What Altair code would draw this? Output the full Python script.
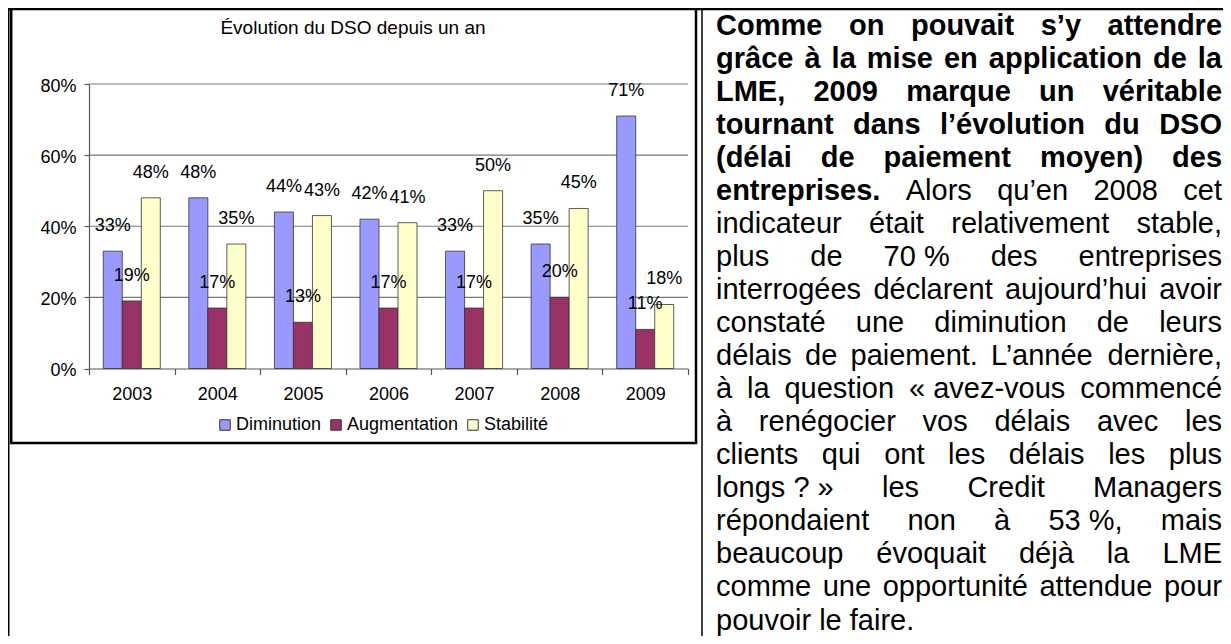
import altair as alt
import pandas as pd

# ---------------- data ----------------
YEARS = ["2003", "2004", "2005", "2006", "2007", "2008", "2009"]
SERIES = ["Diminution", "Augmentation", "Stabilité"]
DIMINUTION = [0.33, 0.48, 0.44, 0.42, 0.33, 0.35, 0.71]
AUGMENTATION = [0.19, 0.17, 0.13, 0.17, 0.17, 0.20, 0.11]
STABILITE = [0.48, 0.35, 0.43, 0.41, 0.50, 0.45, 0.18]
Y_TICKS = [0.0, 0.2, 0.4, 0.6, 0.8]
GRID_VALUES = [0.2, 0.4, 0.6, 0.8]
COLORS = ["#9999FF", "#993366", "#FFFFCC"]
TITLE = ["Évolution du DSO depuis un an"]

NB = "\u00a0"
TEXT_LINES = [
    "Comme on pouvait s’y attendre",
    "grâce à la mise en application de la",
    "LME, 2009 marque un véritable",
    "tournant dans l’évolution du DSO",
    "(délai de paiement moyen) des",
    "entreprises. Alors qu’en 2008 cet",
    "indicateur était relativement stable,",
    "plus de 70" + NB + "% des entreprises",
    "interrogées déclarent aujourd’hui avoir",
    "constaté une diminution de leurs",
    "délais de paiement. L’année dernière,",
    "à la question «" + NB + "avez-vous commencé",
    "à renégocier vos délais avec les",
    "clients qui ont les délais les plus",
    "longs" + NB + "?" + NB + "» les Credit Managers",
    "répondaient non à 53" + NB + "%, mais",
    "beaucoup évoquait déjà la LME",
    "comme une opportunité attendue pour",
    "pouvoir le faire.",
]
# number of leading bold words in each line
BOLD_WORDS = [99, 99, 99, 99, 99, 1, 0, 0, 0, 0, 0, 0, 0, 0, 0, 0, 0, 0, 0]

# ---------------- layout constants ----------------
W, H = 1215, 628
FONT = "Liberation Sans"
CHART_FS = 18
TITLE_FS = 19
BODY_FS = 29
COL_LEFT, COL_WIDTH = 708, 506
LINE_Y0, LINE_Y_LAST = 26.5, 621.5

# Arial / Liberation Sans advance widths (1/1000 em)
REG = {" ": 278, NB: 278, "a": 556, "b": 556, "c": 500, "d": 556, "e": 556, "f": 278, "g": 556,
       "h": 556, "i": 222, "j": 222, "k": 500, "l": 222, "m": 833, "n": 556, "o": 556, "p": 556,
       "q": 556, "r": 333, "s": 500, "t": 278, "u": 556, "v": 500, "w": 722, "x": 500, "y": 500,
       "z": 500, "à": 556, "â": 556, "é": 556, "è": 556, "ê": 556, "ç": 500, "î": 278, "ô": 556,
       "û": 556, "ù": 556, "A": 667, "C": 722, "D": 722, "E": 667, "L": 556, "M": 833, "O": 778,
       "S": 667, "%": 889, ",": 278, ".": 278, "?": 556, "«": 556, "»": 556, "’": 222, "-": 333,
       "(": 333, ")": 333}
BOLD = {" ": 278, NB: 278, "a": 556, "b": 611, "c": 556, "d": 611, "e": 556, "f": 333, "g": 611,
        "h": 611, "i": 278, "j": 278, "k": 556, "l": 278, "m": 889, "n": 611, "o": 611, "p": 611,
        "q": 611, "r": 389, "s": 556, "t": 333, "u": 611, "v": 556, "w": 778, "x": 556, "y": 556,
        "z": 500, "à": 556, "â": 556, "é": 556, "è": 556, "ç": 556, "A": 722, "C": 722, "D": 722,
        "E": 667, "L": 611, "M": 833, "O": 778, "S": 667, ",": 278, ".": 278, "(": 333, ")": 333,
        "’": 278}


def text_width(word, bold):
    table = BOLD if bold else REG
    return sum(table.get(ch, 556) for ch in word) * BODY_FS / 1000.0


# justified word layout
rows = []
for li, line in enumerate(TEXT_LINES):
    words = line.split(" ")
    bolds = [wi < BOLD_WORDS[li] for wi in range(len(words))]
    widths = [text_width(w, b) for w, b in zip(words, bolds)]
    last = li == len(TEXT_LINES) - 1
    if last or len(words) == 1:
        gap = 278 * BODY_FS / 1000.0
    else:
        gap = (COL_WIDTH - sum(widths)) / (len(words) - 1)
    x = COL_LEFT
    for w, b, wd in zip(words, bolds, widths):
        rows.append({"word": w, "xw": x, "line": li, "bold": b})
        x += wd + gap
words_df = pd.DataFrame(rows)

bars_df = pd.DataFrame(
    [{"year": y, "series": s, "value": v, "lab": f"{round(v * 100)}%"}
     for s, vals in zip(SERIES, [DIMINUTION, AUGMENTATION, STABILITE])
     for y, v in zip(YEARS, vals)]
)
grid_df = pd.DataFrame({"value": GRID_VALUES})
one = pd.DataFrame({"k": [0]})
title_df = pd.DataFrame({"t": TITLE})

# ---------------- chart ----------------
X_RANGE = [81, 680]
Y_RANGE = [360.5, 76]
yscale = alt.Scale(domain=[0, 0.8], range=Y_RANGE, nice=False, zero=True)
xscale = alt.Scale(domain=YEARS, range=X_RANGE, paddingInner=0, paddingOuter=0)
offscale = alt.Scale(domain=SERIES, paddingInner=0, paddingOuter=0.75)

y_axis = alt.Axis(title=None, orient="left", values=Y_TICKS, format=".0%",
                  offset=-X_RANGE[0], grid=False, tickSize=5, labelPadding=8, labelOffset=2,
                  labelFontSize=CHART_FS, labelColor="black", labelFont=FONT,
                  domainColor="#555555", tickColor="#555555", domainWidth=1.2,
                  tickWidth=1.2)
x_axis = alt.Axis(title=None, orient="bottom", offset=Y_RANGE[0] - H, tickBand="extent",
                  tickSize=6, labelPadding=11, labelAngle=0, labelFontSize=CHART_FS,
                  labelColor="black", labelFont=FONT, domainColor="#555555",
                  tickColor="#555555", domainWidth=1.2, tickWidth=1.2)

grid = alt.Chart(grid_df).mark_rule(color="#777777", strokeWidth=1.2).encode(
    y=alt.Y("value:Q", scale=yscale, axis=y_axis),
    x=alt.value(X_RANGE[0]), x2=alt.value(X_RANGE[1]),
)

bars = alt.Chart(bars_df).mark_bar(stroke="#333333", strokeWidth=0.8).encode(
    x=alt.X("year:N", scale=xscale, sort=YEARS, axis=x_axis),
    xOffset=alt.XOffset("series:N", sort=SERIES, scale=offscale),
    y=alt.Y("value:Q", scale=yscale, axis=y_axis),
    color=alt.Color("series:N", sort=SERIES, scale=alt.Scale(domain=SERIES, range=COLORS),
                    legend=alt.Legend(orient="none", legendX=208, legendY=408,
                                      direction="horizontal", title=None, symbolType="square",
                                      symbolSize=110, symbolStrokeColor="#333333",
                                      symbolStrokeWidth=1, symbolOpacity=1,
                                      labelFontSize=CHART_FS, labelFont=FONT,
                                      labelColor="black", labelOffset=2, columnPadding=5)),
)

labels = alt.Chart(bars_df).mark_text(
    font=FONT, fontSize=CHART_FS, color="black", baseline="middle", dy=-25
).encode(
    x=alt.X("year:N", scale=xscale, sort=YEARS, axis=x_axis),
    xOffset=alt.XOffset("series:N", sort=SERIES, scale=offscale),
    y=alt.Y("value:Q", scale=yscale, axis=y_axis),
    text="lab:N",
)

plot = alt.layer(grid, bars, labels)

title = alt.Chart(title_df).mark_text(
    font=FONT, fontSize=TITLE_FS, color="black", align="center", baseline="middle"
).encode(x=alt.value(345), y=alt.value(20), text="t:N")


def rule(x1, y1, x2, y2, w):
    return alt.Chart(one).mark_rule(color="black", strokeWidth=w).encode(
        x=alt.value(x1), x2=alt.value(x2), y=alt.value(y1), y2=alt.value(y2))


frames = [
    rule(0, 1, W, 1, 2.5),          # table top
    rule(0.75, 0, 0.75, H, 1.5),     # table left
    rule(694, 0, 694, H, 1.5),       # column divider
    rule(3.2, 0, 3.2, 435, 2.5),     # chart box left
    rule(688, 0, 688, 435, 2.5),     # chart box right
    rule(2, 435, 689.2, 435, 2.5),   # chart box bottom
]

tx = alt.X("xw:Q", scale=alt.Scale(domain=[0, W], range=[0, W], nice=False, zero=False), axis=None)
ty = alt.Y("line:Q", scale=alt.Scale(domain=[0, len(TEXT_LINES) - 1], range=[LINE_Y0, LINE_Y_LAST],
                                    nice=False, zero=False), axis=None)
txt_bold = alt.Chart(words_df[words_df["bold"]]).mark_text(
    font=FONT, fontSize=BODY_FS, fontWeight="bold", color="black", align="left", baseline="alphabetic"
).encode(x=tx, y=ty, text="word:N")
txt_reg = alt.Chart(words_df[~words_df["bold"]]).mark_text(
    font=FONT, fontSize=BODY_FS, color="black", align="left", baseline="alphabetic"
).encode(x=tx, y=ty, text="word:N")

chart = alt.layer(plot, *frames, title, txt_bold, txt_reg).resolve_scale(
    x="independent", y="independent"
).properties(
    width=W, height=H, autosize=alt.AutoSizeParams(type="none"), padding=0
).configure_view(stroke=None).configure(font=FONT)

chart.save("out.html", embed_options={"renderer": "svg", "actions": False})
